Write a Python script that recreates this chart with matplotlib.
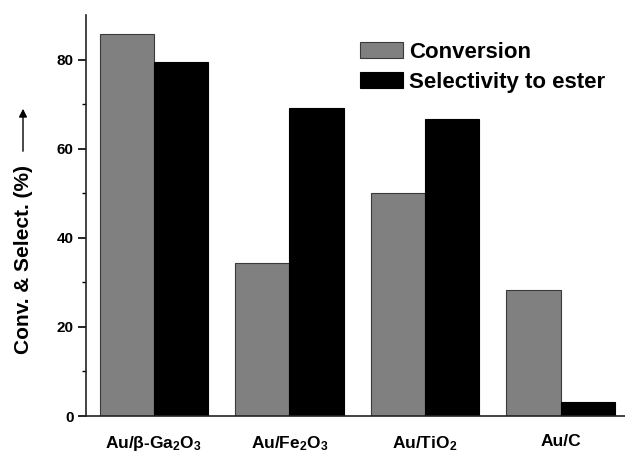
import matplotlib
matplotlib.use("Agg")
import matplotlib.pyplot as plt
import numpy as np

categories = [r"Au/$\beta$-Ga$_2$O$_3$", r"Au/Fe$_2$O$_3$", r"Au/TiO$_2$", "Au/C"]
conversion = [85.8, 34.4, 50.0, 28.3]
selectivity = [79.4, 69.2, 66.6, 3.1]
series_names = ["Conversion", "Selectivity to ester"]
yticks = [0, 20, 40, 60, 80]

plt.rcParams['font.family'] = ['Liberation Sans', 'DejaVu Sans']
plt.rcParams['font.weight'] = 'bold'
plt.rcParams['mathtext.fontset'] = 'custom'
plt.rcParams['mathtext.rm'] = 'Liberation Sans:bold'
plt.rcParams['mathtext.it'] = 'Liberation Sans:bold'
plt.rcParams['mathtext.bf'] = 'Liberation Sans:bold'
plt.rcParams['mathtext.default'] = 'bf'

fig = plt.figure(figsize=(6.25, 4.53), dpi=100)
ax = fig.add_axes([86/625, 37/453, (625-86)/625, 401/453])

x = np.arange(1, len(categories) + 1)
w = 0.4
ax.bar(x - w/2, conversion, w, color='#808080', edgecolor='#3a3a3a', linewidth=0.8, label=series_names[0])
ax.bar(x + w/2, selectivity, w, color='black', edgecolor='black', linewidth=0.8, label=series_names[1])

ax.set_xlim(0.5, 4.475)
ax.set_ylim(0, 90)
ax.set_yticks(yticks)
ax.set_yticklabels([str(t) for t in yticks], fontsize=11, fontweight='bold')
ax.set_yticks([10, 30, 50, 70], minor=True)
ax.tick_params(axis='y', which='major', direction='out', length=6, width=1.2, pad=3)
ax.tick_params(axis='y', which='minor', direction='out', length=3, width=1.0)
ax.set_xticks(x)
ax.set_xticklabels(categories, fontsize=12.5, fontweight='bold')
ax.tick_params(axis='x', length=0, pad=13)

for s in ['top', 'right']:
    ax.spines[s].set_visible(False)
for s in ['left', 'bottom']:
    ax.spines[s].set_linewidth(1.2)
    ax.spines[s].set_color('#222222')

ax.set_ylabel("Conv. & Select. (%)", fontsize=15, fontweight='bold')
ax.yaxis.set_label_coords(-0.098, 0.3915)

fig.patches.append(matplotlib.patches.FancyArrowPatch(
    (23/625, 1 - 154/453), (23/625, 1 - 106/453), transform=fig.transFigure,
    arrowstyle='-|>', mutation_scale=12, color='black', linewidth=1.0))

leg = ax.legend(loc='upper left', bbox_to_anchor=(0.492, 0.955), frameon=False,
                fontsize=16, handlelength=1.94, handleheight=0.765, handletextpad=0.25,
                labelspacing=0.4, borderaxespad=0)
for t in leg.get_texts():
    t.set_fontweight('bold')

fig.savefig("out.png", dpi=100)
